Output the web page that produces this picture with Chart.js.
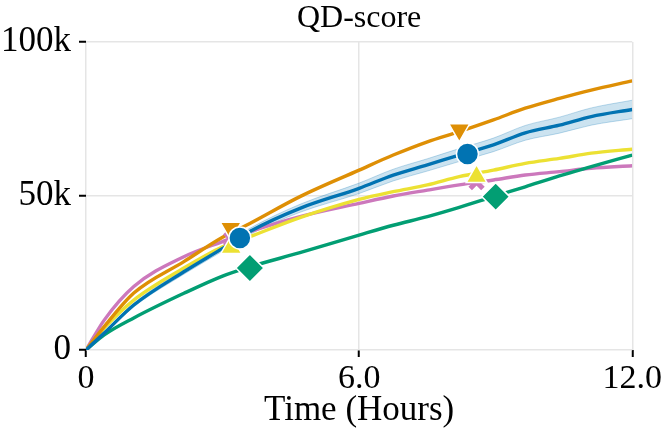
<!DOCTYPE html>
<html>
<head>
<meta charset="utf-8">
<script src="https://cdn.jsdelivr.net/npm/chart.js@4/dist/chart.umd.min.js"></script>
<style>
html,body{margin:0;padding:0;background:#fff;}
#wrap{width:664px;height:439px;position:relative;}
</style>
</head>
<body>
<div id="wrap"><canvas id="c"></canvas></div>
<script>
// Time axis (hours)
const hours = [0, 0.4, 1.05, 2.15, 3, 3.6, 4.7, 6, 6.75, 7.5, 8.2, 8.95, 9.65, 10.4, 11.1, 12];
// QD-score values in thousands
const orangeVals = [0, 7.6, 18.5, 28.7, 36.6, 41.1, 49.8, 58.4, 63.3, 67.6, 70.9, 74.7, 78.5, 81.7, 84.4, 87.4];
const blueVals   = [0, 5.5, 14.6, 25.4, 33, 38.5, 46, 52.5, 56.8, 60.1, 63.3, 66.6, 70.5, 73, 75.8, 78.1];
const blueBand   = [0, 0.4, 0.6, 0.8, 0.9, 1.0, 1.3, 1.7, 1.9, 2.0, 2.1, 2.2, 2.4, 2.6, 2.8, 3.0];
const yellowVals = [0, 7.1, 16.2, 26.6, 33.5, 36.8, 43, 48.9, 51.4, 53.6, 56.3, 58.4, 60.6, 62.2, 63.9, 65.2];
const pinkVals   = [0, 9.7, 20.6, 30.3, 35.2, 38.4, 43.3, 47.6, 50, 51.9, 53.6, 55.2, 56.8, 57.9, 59, 59.8];
const greenVals  = [0, 4.9, 10.4, 18.4, 24, 27, 31.6, 37.3, 40.5, 43.3, 46.3, 49.8, 53, 56.5, 59.5, 63.3];

// Marker positions (hours, thousands)
const orangeMarkX = [3.18, 8.2],  orangeMarkY = [39.5, 71.5];
const blueMarkX   = [3.38, 8.38], blueMarkY   = [36.4, 63.6];
const yellowMarkX = [3.19, 8.58], yellowMarkY = [33.3, 56.3];
const pinkMarkX   = [3.19, 8.58], pinkMarkY   = [36.0, 54.5];
const greenMarkX  = [3.6, 9.0],   greenMarkY  = [26.6, 49.8];

const xTicks = [0, 6, 12];
const yTicks = [0, 50, 100];

const C = {orange:'#de8f05', blue:'#0173b2', yellow:'#ece133', pink:'#cc78bc', green:'#029e73'};

const pts = (xs, ys) => xs.map((x, i) => ({x, y: ys[i]}));
const lineDs = (vals, color) => ({
  type:'line', data: pts(hours, vals), borderColor: color, borderWidth: 3.4,
  pointRadius: 0, fill: false, tension: 0.4, cubicInterpolationMode: 'monotone'
});
const markDs = (xs, ys, color, style, r, rot) => ({
  type:'scatter', data: pts(xs, ys), backgroundColor: color, borderColor: '#fff',
  borderWidth: 1.5, pointStyle: style, pointRadius: r, pointRotation: rot || 0, pointHoverRadius: r
});

const upper = blueVals.map((v, i) => v + blueBand[i]);
const lower = blueVals.map((v, i) => v - blueBand[i]);

const serif = 'Liberation Serif, Times New Roman, serif';

const datasets = [
  markDs(blueMarkX, blueMarkY, C.blue, 'circle', 11),
  markDs(orangeMarkX, orangeMarkY, C.orange, 'triangle', 12, 180),
  markDs(yellowMarkX, yellowMarkY, C.yellow, 'triangle', 12, 0),
  markDs(greenMarkX, greenMarkY, C.green, 'rectRot', 14),
  Object.assign(markDs(pinkMarkX, pinkMarkY, C.pink, 'crossRot', 9), {borderColor: C.pink, borderWidth: 5}),
  lineDs(blueVals, C.blue),
  lineDs(orangeVals, C.orange),
  lineDs(greenVals, C.green),
  lineDs(yellowVals, C.yellow),
  lineDs(pinkVals, C.pink),
  {type:'line', data: pts(hours, upper), borderColor:'rgba(1,115,178,0.25)', borderWidth:1, pointRadius:0,
   backgroundColor:'rgba(1,115,178,0.2)', fill:'+1', tension:0.4, cubicInterpolationMode:'monotone'},
  {type:'line', data: pts(hours, lower), borderColor:'rgba(1,115,178,0.25)', borderWidth:1, pointRadius:0,
   fill:false, tension:0.4, cubicInterpolationMode:'monotone'}
];

new Chart(document.getElementById('c'), {
  type: 'line',
  data: { datasets },
  options: {
    responsive: true, maintainAspectRatio: false, animation: false,
    layout: { padding: { left: 0, right: 31, top: 0, bottom: 0 } },
    plugins: {
      legend: { display: false }, tooltip: { enabled: false },
      title: { display: true, text: 'QD-score', color: '#000', fullSize: false,
        font: { family: serif, size: 32, weight: 'normal', lineHeight: 1.0 },
        padding: { top: 3, bottom: 7 } }
    },
    scales: {
      x: {
        type: 'linear', min: 0, max: 12,
        afterBuildTicks: s => { s.ticks = xTicks.map(v => ({value: v})); },
        afterFit: s => { s.height = 89; },
        grid: { color: '#e5e5e5', lineWidth: 1.5, tickColor: '#000', tickWidth: 2, tickLength: 7, drawTicks: true },
        border: { display: false },
        ticks: { color: '#000', padding: 2, maxRotation: 0, font: { family: serif, size: 34 },
          callback: v => v === 0 ? '0' : v.toFixed(1) },
        title: { display: true, text: 'Time (Hours)', color: '#000',
          font: { family: serif, size: 35 }, padding: { top: 0, bottom: 7 } }
      },
      y: {
        type: 'linear', min: 0, max: 100,
        afterBuildTicks: s => { s.ticks = yTicks.map(v => ({value: v})); },
        afterFit: s => { s.width = 86; },
        grid: { color: '#e5e5e5', lineWidth: 1.5, tickColor: '#000', tickWidth: 2, tickLength: 7 },
        border: { display: false },
        ticks: { color: '#000', padding: 8, font: { family: serif, size: 35 },
          callback: v => v === 0 ? '0' : v + 'k' }
      }
    }
  }
});
</script>
</body>
</html>
